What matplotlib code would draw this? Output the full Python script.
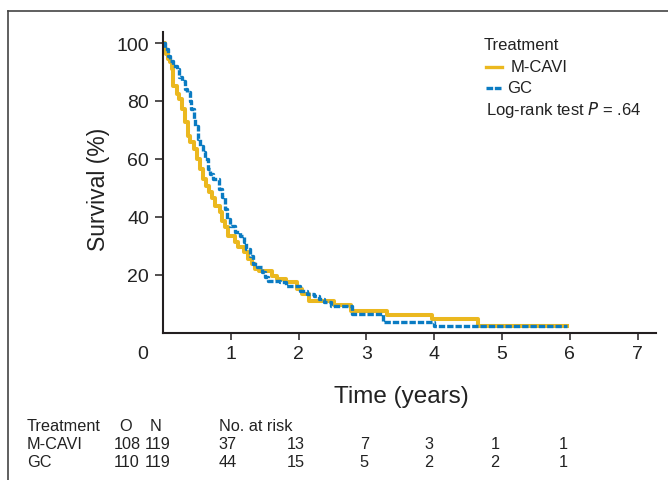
import matplotlib
matplotlib.use('Agg')
import matplotlib.pyplot as plt
from matplotlib.lines import Line2D

# Kaplan-Meier step points (time in years, survival %)
mcavi_t = [0, 0.03, 0.05, 0.08, 0.10, 0.13, 0.15, 0.20, 0.23, 0.28, 0.32, 0.37,
           0.40, 0.45, 0.50, 0.55, 0.59, 0.64, 0.68, 0.72, 0.77, 0.84, 0.87, 0.91,
           0.96, 1.06, 1.11, 1.19, 1.26, 1.31, 1.36, 1.41, 1.60, 1.68, 1.82, 1.97,
           2.05, 2.15, 2.52, 2.77, 3.30, 3.96, 4.65, 5.96]
mcavi_s = [100, 98, 96.2, 94.5, 93.3, 91, 85.3, 82.5, 80.7, 77.2, 72.6, 68,
           65.7, 63.4, 59.9, 56.5, 53, 50.7, 48.5, 46.5, 43.8, 41.5, 38.6, 36.4,
           33.5, 31.2, 29.4, 27.7, 25.4, 23.7, 22, 21.4, 19.6, 18.5, 17.4, 15.1,
           13.3, 11.0, 9.5, 7.6, 6.0, 4.6, 2.4, 2.4]

gc_t = [0, 0.03, 0.08, 0.10, 0.15, 0.20, 0.23, 0.28, 0.32, 0.35, 0.40, 0.42,
        0.45, 0.47, 0.52, 0.55, 0.59, 0.62, 0.67, 0.69, 0.74, 0.82, 0.87, 0.91,
        0.95, 0.99, 1.06, 1.14, 1.19, 1.23, 1.28, 1.33, 1.38, 1.46, 1.50, 1.55,
        1.73, 1.82, 2.02, 2.12, 2.22, 2.30, 2.38, 2.48, 2.78, 3.25, 3.99, 5.96]
gc_s = [100, 97.9, 95.6, 93.9, 92.2, 91, 88.2, 87, 84.1, 83, 80.1, 77.2,
        73.8, 71.4, 66.9, 64.5, 62.3, 59.9, 56.5, 54.8, 53, 49.6, 46.7, 42.7,
        39.2, 36.9, 34.6, 33.5, 31.2, 28.9, 26.6, 23.7, 22.5, 20.8, 19.1, 17.9,
        17.4, 16.2, 14.5, 13.3, 12.7, 11.6, 10.5, 9.3, 6.4, 3.8, 2.4, 2.4]

x_ticks = [1, 2, 3, 4, 5, 6, 7]
y_ticks = [20, 40, 60, 80, 100]

groups = ['M-CAVI', 'GC']
observed = [108, 110]
n_total = [119, 119]
at_risk = [[37, 13, 7, 3, 1, 1],
           [44, 15, 5, 2, 2, 1]]
risk_x = [0.82, 1.82, 2.90, 3.85, 4.83, 5.83]

yellow = '#EBB81F'
blue = '#0A7BC2'
dark = '#231f20'
txt = '#222222'

plt.rcParams['font.family'] = ['Liberation Sans', 'DejaVu Sans']

W, H = 668, 481
fig = plt.figure(figsize=(W / 100, H / 100), dpi=100)
ax = fig.add_axes([163 / W, 1 - 333.6 / H, 493 / W, 300.6 / H])

def fx(px):
    return px / W

def fy(py):
    return 1 - py / H

ax.step(mcavi_t, mcavi_s, where='post', color=yellow, lw=2.9)
ax.step(gc_t, gc_s, where='post', color=blue, lw=2.4, linestyle=(0, (1.9, 0.6)))

ax.set_xlim(0, 7.27)
ax.set_ylim(0, 103.8)
for s in ['top', 'right']:
    ax.spines[s].set_visible(False)
for s in ['left', 'bottom']:
    ax.spines[s].set_linewidth(1.5)
    ax.spines[s].set_color(dark)
ax.set_xticks(x_ticks)
ax.set_yticks(y_ticks)
ax.tick_params(axis='x', length=5, width=1.1, color=dark, pad=3.6, labelsize=14, labelcolor=txt)
ax.tick_params(axis='y', length=5.8, width=1.1, color=dark, pad=4.3, labelsize=14, labelcolor=txt)

# origin label sits left of the axis corner
fig.text(fx(143), fy(359.3), '0', ha='center', va='baseline', fontsize=14, color=txt)

fig.text(fx(98), fy(189), 'Survival (%)', rotation=90, ha='center', va='center',
         fontsize=16.5, color=txt)
fig.text(fx(401.7), fy(403), 'Time (years)', ha='center', va='baseline',
         fontsize=17.5, color=txt)

# legend block
fig.text(fx(484), fy(49.5), 'Treatment', fontsize=12, va='baseline', color=txt)
fig.add_artist(Line2D([fx(485.7), fx(501.7)], [fy(67.7)] * 2, color=yellow, lw=2.4))
fig.text(fx(510.7), fy(71.7), 'M-CAVI', fontsize=12, va='baseline', color=txt)
fig.add_artist(Line2D([fx(485.7), fx(501)], [fy(89.3)] * 2, color=blue, lw=2.4,
                      linestyle=(0, (2.0, 0.5))))
fig.text(fx(506.7), fy(93.3), 'GC', fontsize=12, va='baseline', color=txt)
fig.text(fx(485.7), fy(115), 'Log-rank test $\\it{P}$ = .64', fontsize=12, va='baseline', color=txt)

# number-at-risk table
row_y = [431.5, 449, 467]
fs = 11.7
fig.text(fx(27), fy(row_y[0]), 'Treatment', fontsize=fs, va='baseline', color=txt)
fig.text(fx(126), fy(row_y[0]), 'O', fontsize=fs, va='baseline', ha='center', color=txt)
fig.text(fx(156), fy(row_y[0]), 'N', fontsize=fs, va='baseline', ha='center', color=txt)
fig.text(ax.transData.transform((risk_x[0], 0))[0] / W, fy(row_y[0]), 'No. at risk',
         fontsize=fs, va='baseline', color=txt)
for i, g in enumerate(groups):
    yy = fy(row_y[i + 1])
    fig.text(fx(27), yy, g, fontsize=fs, va='baseline', color=txt)
    fig.text(fx(127), yy, str(observed[i]), fontsize=fs, va='baseline', ha='center', color=txt)
    fig.text(fx(158), yy, str(n_total[i]), fontsize=fs, va='baseline', ha='center', color=txt)
    for xr, v in zip(risk_x, at_risk[i]):
        xp = ax.transData.transform((xr, 0))[0] / W
        fig.text(xp, yy, str(v), fontsize=fs, va='baseline', color=txt)

# partial frame around the figure
fig.add_artist(Line2D([fx(8), 1], [fy(11.5)] * 2, color='#444444', lw=1.2))
fig.add_artist(Line2D([fx(8)] * 2, [fy(11.5), 0], color='#444444', lw=1.2))

fig.savefig('out.png', dpi=100)
